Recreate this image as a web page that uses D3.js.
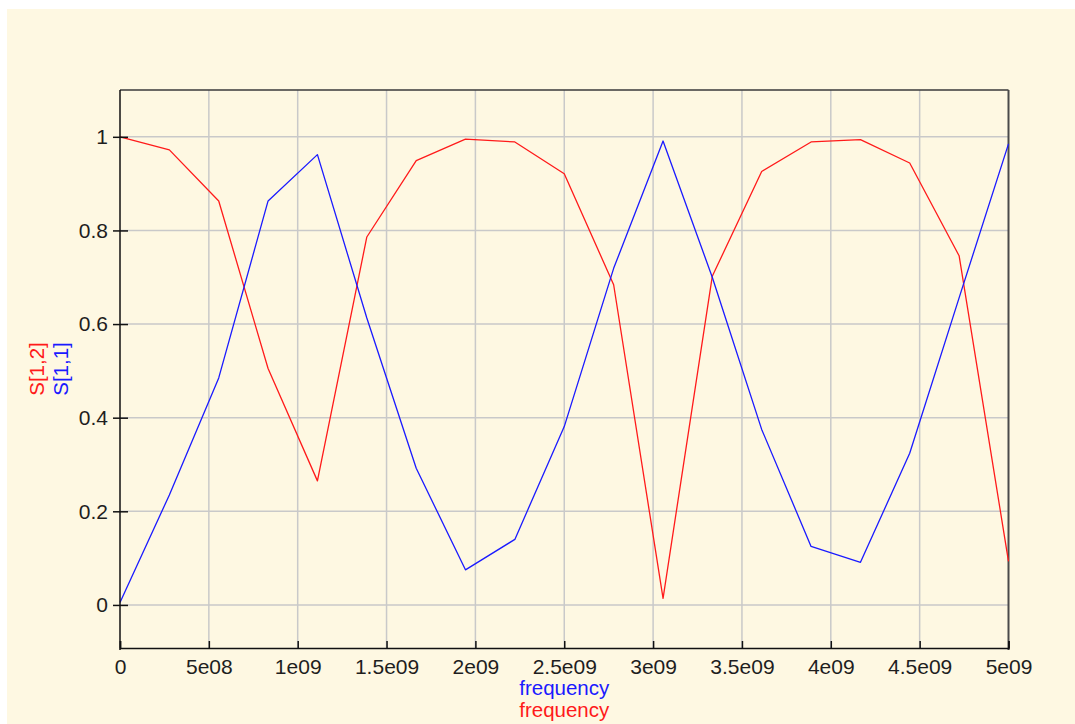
<!DOCTYPE html>
<html><head><meta charset="utf-8">
<script src="https://cdn.jsdelivr.net/npm/d3@7"></script>
<style>
html,body{margin:0;padding:0;background:#ffffff;}
svg{display:block;}
text{font-family:"Liberation Sans",Arial,sans-serif;}
</style></head>
<body>
<script>
// ---- data ----
const frequency = [0, 2.778e8, 5.556e8, 8.333e8, 1.111e9, 1.389e9, 1.667e9, 1.944e9, 2.222e9, 2.5e9,
                   2.778e9, 3.056e9, 3.333e9, 3.611e9, 3.889e9, 4.167e9, 4.444e9, 4.722e9, 5e9];
const s12 = [1.0, 0.972, 0.863, 0.505, 0.265, 0.786, 0.949, 0.995, 0.989, 0.921,
             0.684, 0.014, 0.702, 0.926, 0.989, 0.994, 0.944, 0.746, 0.093];
const s11 = [0.005, 0.235, 0.485, 0.863, 0.962, 0.613, 0.292, 0.075, 0.140, 0.381,
             0.719, 0.991, 0.700, 0.375, 0.125, 0.091, 0.324, 0.656, 0.985];
const xTicks = [0, 5e8, 1e9, 1.5e9, 2e9, 2.5e9, 3e9, 3.5e9, 4e9, 4.5e9, 5e9];
const xTickLabels = ["0", "5e08", "1e09", "1.5e09", "2e09", "2.5e09", "3e09", "3.5e09", "4e09", "4.5e09", "5e09"];
const yTicks = [0, 0.2, 0.4, 0.6, 0.8, 1];
const yTickLabels = ["0", "0.2", "0.4", "0.6", "0.8", "1"];
const xDomain = [0, 5e9];
const yDomain = [-0.092, 1.1];

const W = 1075, H = 724;
const svg = d3.select("body").append("svg").attr("width", W).attr("height", H);

// panel background
svg.append("rect").attr("x", 7).attr("y", 9).attr("width", W - 7).attr("height", H - 9).attr("fill", "#fef8e2");

const x = d3.scaleLinear().domain(xDomain).range([120, 1008.5]);
const y = d3.scaleLinear().domain(yDomain).range([648, 90]);

const x0 = x.range()[0], x1 = x.range()[1], yb = y.range()[0], yt = y.range()[1];

// grid
const grid = svg.append("g").attr("stroke", "#c9c9c9").attr("stroke-width", 1.5);
xTicks.slice(1, -1).forEach(t => {
  grid.append("line").attr("x1", x(t)).attr("x2", x(t)).attr("y1", yt).attr("y2", yb);
});
yTicks.forEach(t => {
  grid.append("line").attr("x1", x0).attr("x2", x1).attr("y1", y(t)).attr("y2", y(t));
});

// frame
svg.append("line").attr("x1", x0).attr("x2", x1).attr("y1", yt).attr("y2", yt).attr("stroke", "#3a3a3a").attr("stroke-width", 1.5);
svg.append("line").attr("x1", x1).attr("x2", x1).attr("y1", yt).attr("y2", yb + 2).attr("stroke", "#4a4a4a").attr("stroke-width", 2);

// lines
const line = d3.line().x((d, i) => x(frequency[i])).y(d => y(d));
const lines = svg.append("g").attr("fill", "none").attr("stroke-width", 1.3).attr("stroke-linejoin", "round");
lines.append("path").datum(s12).attr("d", line).attr("stroke", "#ff1a1a");
lines.append("path").datum(s11).attr("d", line).attr("stroke", "#1a1aff");

// axes
const xAxis = d3.axisBottom(x).tickValues(xTicks).tickFormat((d, i) => xTickLabels[i]).tickSize(-7).tickPadding(11);
const gx = svg.append("g").attr("transform", `translate(0,${yb})`).call(xAxis);
gx.select(".domain").attr("stroke", "#111").attr("stroke-width", 1.5);
gx.selectAll(".tick line").attr("stroke", "#111").attr("stroke-width", 1.5);
gx.selectAll(".tick text").attr("font-size", 21).attr("fill", "#1e1e1e").attr("font-family", "Liberation Sans, Arial, sans-serif");

const yAxis = d3.axisLeft(y).tickValues(yTicks).tickFormat((d, i) => yTickLabels[i]).tickSize(7).tickPadding(5);
const gy = svg.append("g").attr("transform", `translate(${x0},0)`).call(yAxis);
gy.select(".domain").attr("stroke", "#111").attr("stroke-width", 1.5).attr("d", `M0,${yt}V${yb + 2}`);
gy.selectAll(".tick line").attr("stroke", "#111").attr("stroke-width", 1.5).attr("x2", -7).attr("x1", 8);
gy.selectAll(".tick text").attr("font-size", 21).attr("fill", "#1e1e1e").attr("font-family", "Liberation Sans, Arial, sans-serif");

// axis titles
const cx = (x0 + x1) / 2, cy = (yt + yb) / 2;
svg.append("text").attr("x", cx).attr("y", 695).attr("text-anchor", "middle").attr("font-size", 20.5).attr("fill", "#1a1aff").text("frequency");
svg.append("text").attr("x", cx).attr("y", 717).attr("text-anchor", "middle").attr("font-size", 20.5).attr("fill", "#ff1a1a").text("frequency");
svg.append("text").attr("transform", `translate(44,${cy}) rotate(-90)`).attr("text-anchor", "middle").attr("font-size", 20.5).attr("fill", "#ff1a1a").text("S[1,2]");
svg.append("text").attr("transform", `translate(68,${cy}) rotate(-90)`).attr("text-anchor", "middle").attr("font-size", 20.5).attr("fill", "#1a1aff").text("S[1,1]");
</script>
</body></html>
